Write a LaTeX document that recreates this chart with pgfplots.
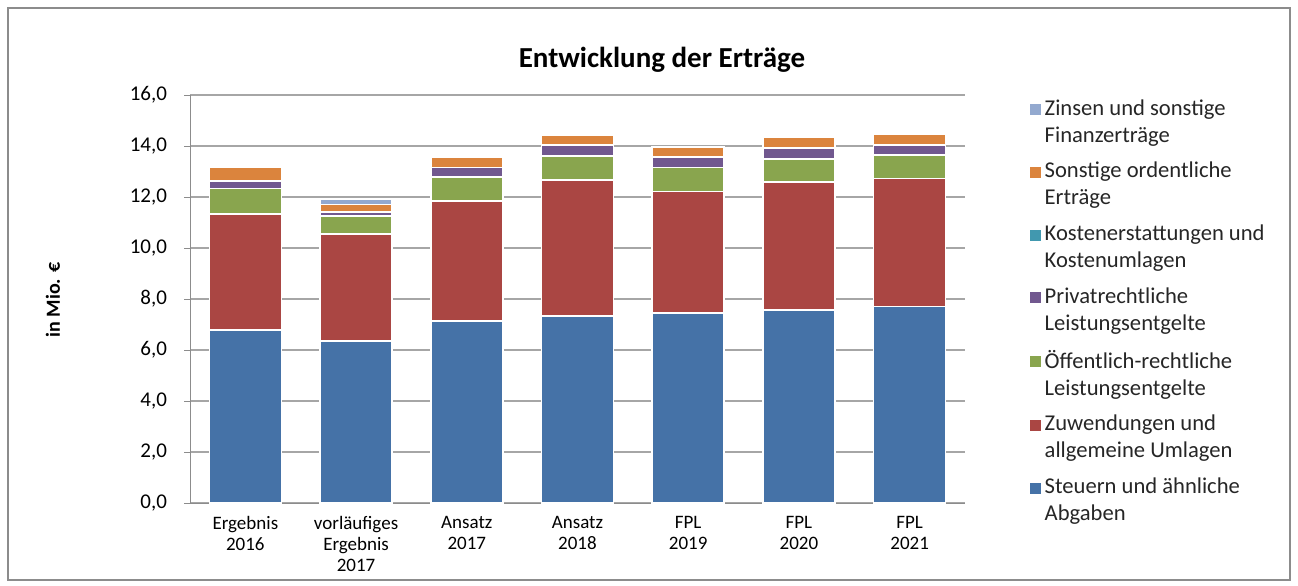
\documentclass[border=0pt]{standalone}
\usepackage{fontspec}
\setmainfont{Carlito}
\usepackage{pgfplots}
\usepackage{pgfplotstable}
\pgfplotsset{compat=1.18}
\definecolor{cSteuern}{HTML}{4572A7}
\definecolor{cZuw}{HTML}{AA4643}
\definecolor{cOeff}{HTML}{89A54E}
\definecolor{cPriv}{HTML}{71588F}
\definecolor{cKost}{HTML}{4198AF}
\definecolor{cSonst}{HTML}{DB843D}
\definecolor{cZins}{HTML}{93A9CF}
\pgfplotstableread{
x Steuern Zuw Oeff Priv Kost Sonst Zins
0 6.78 4.55 1.01 0.29 0 0.52 0
1 6.35 4.19 0.71 0.16 0 0.29 0.20
2 7.14 4.71 0.93 0.38 0 0.42 0
3 7.33 5.34 0.94 0.42 0 0.40 0
4 7.45 4.76 0.95 0.40 0 0.39 0
5 7.57 5.02 0.91 0.42 0 0.42 0
6 7.71 5.01 0.92 0.39 0 0.43 0
}\data
\begin{document}
\begin{tikzpicture}[x=1pt,y=1pt]
\useasboundingbox (0,0) rectangle (649,292.5);
\draw[black!45, line width=0.6pt] (4,2.5) rectangle (645,288.5);
\node[font=\bfseries\fontsize{14.5}{17}\selectfont] at (331pt,262.5pt) {Entwicklung der Erträge};
\node[font=\bfseries\fontsize{10}{12}\selectfont, rotate=90] at (26.5pt,142.5pt) {in Mio. €};
\begin{axis}[at={(95pt,41pt)}, anchor=south west, scale only axis,
  width=387.5pt, height=204pt,
  ybar stacked, bar width=36pt,
  ymin=0, ymax=16, ytick={0,2,...,16},
  xmin=-0.5, xmax=6.5, xtick={0,...,6},
  xticklabels={Ergebnis\\2016, vorläufiges\\Ergebnis\\2017, Ansatz\\2017, Ansatz\\2018, FPL\\2019, FPL\\2020, FPL\\2021},
  xticklabel style={align=center, font=\fontsize{9.5}{10.5}\selectfont},
  yticklabel style={font=\fontsize{10.5}{12}\selectfont, xshift=-5pt},
  /pgf/number format/.cd, fixed, fixed zerofill, precision=1, use comma, assume math mode=true,
  /pgfplots/.cd,
  axis x line*=bottom, axis y line*=left,
  axis line style={black!45},
  ymajorgrids, grid style={black!35, line width=0.6pt},
  xtick style={draw=none},
  ytick style={draw=black!45}, tick align=outside, major tick length=3pt,
  reverse legend,
  legend image code/.code={\fill[#1,draw=none] (0pt,3.5pt) rectangle (5.5pt,9pt);},
  legend style={at={(1.083,1.0)}, anchor=north west, draw=none, fill=none, inner sep=0pt,
    font=\fontsize{11.3}{13.5}\selectfont, row sep=4.5pt, cells={align=left}, text=black!85},
  legend cell align=left,
  every axis plot/.append style={draw=white, line width=0.8pt},
]
\addplot[fill=cSteuern] table[x=x,y=Steuern]{\data};
\addlegendentry{Steuern und ähnliche\\Abgaben}
\addplot[fill=cZuw] table[x=x,y=Zuw]{\data};
\addlegendentry{Zuwendungen und\\allgemeine Umlagen}
\addplot[fill=cOeff] table[x=x,y=Oeff]{\data};
\addlegendentry{Öffentlich-rechtliche\\Leistungsentgelte}
\addplot[fill=cPriv] table[x=x,y=Priv]{\data};
\addlegendentry{Privatrechtliche\\Leistungsentgelte}
\addplot[fill=cKost] table[x=x,y=Kost]{\data};
\addlegendentry{Kostenerstattungen und\\Kostenumlagen}
\addplot[fill=cSonst] table[x=x,y=Sonst]{\data};
\addlegendentry{Sonstige ordentliche\\Erträge}
\addplot[fill=cZins] table[x=x,y=Zins]{\data};
\addlegendentry{Zinsen und sonstige\\Finanzerträge}
\end{axis}
\end{tikzpicture}
\end{document}
